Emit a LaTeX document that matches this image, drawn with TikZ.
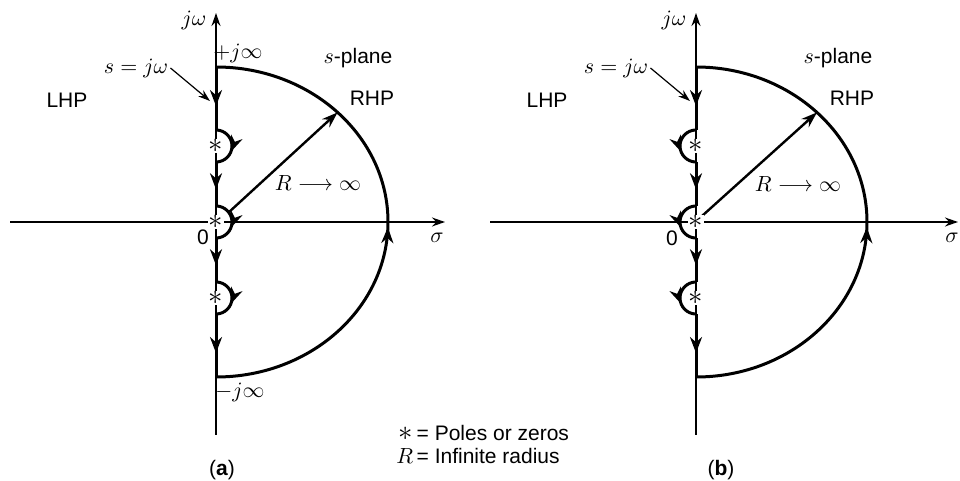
\documentclass[tikz,border=0pt]{standalone}
\usepackage{fontspec}
\setmainfont{Liberation Sans}
\usetikzlibrary{arrows.meta,decorations.markings}
\begin{document}
\begin{tikzpicture}[x=0.5pt,y=0.5pt,
  every node/.style={font=\fontsize{10.5}{12.5}\selectfont, inner sep=1pt},
  axisline/.style={line width=0.7pt,-{Stealth[length=6.5pt,width=4.5pt]}},
  plainaxis/.style={line width=0.7pt},
  contour/.style={line width=1.5pt},
  midarrow/.style={postaction={decorate},decoration={markings,mark=at position #1 with {\arrow{Stealth[length=8pt,width=6pt]}}}},
  midarrow/.default=0.62,
  indarrow/.style={postaction={decorate},decoration={markings,mark=at position 0.62 with {\arrow{Stealth[length=8pt,width=6pt]}}}},
  radline/.style={line width=1.2pt,-{Stealth[length=8pt,width=5.5pt]}},
  pointer/.style={line width=0.6pt,-{Stealth[length=6pt,width=4pt]}},
  pole/.style={fill=white,inner sep=0.3pt,font=\fontsize{15}{15}\selectfont}
]
\useasboundingbox (0,0) rectangle (960,-481);

% ================= (a) =================
\coordinate (Oa) at (216,-222);
\coordinate (axLa) at (10,-222);
\coordinate (axRa) at (445,-222);
\coordinate (ayBa) at (216,-435);
\coordinate (ayTa) at (216,-13);
\draw[plainaxis] (Oa) -- (axLa);
\draw[axisline] (Oa) -- (axRa);
\draw[plainaxis] (Oa) -- (ayBa);
\draw[axisline] (Oa) -- (ayTa);

\coordinate (ta) at (216,-67);
\coordinate (p1ta) at (216,-130);
\coordinate (p1ba) at (216,-162);
\coordinate (p0ta) at (216,-206);
\coordinate (p0ba) at (216,-238);
\coordinate (p2ta) at (216,-282);
\coordinate (p2ba) at (216,-314);
\coordinate (ba) at (216,-377);
\coordinate (ea) at (337.6,-112.4);
\coordinate (ra) at (228,-213);

\draw[contour,midarrow] (ta) -- (p1ta);
\draw[contour,indarrow] (p1ta) arc[start angle=90,end angle=-90,radius=16];
\draw[contour,midarrow] (p1ba) -- (p0ta);
\draw[contour,indarrow] (p0ta) arc[start angle=90,end angle=-90,radius=16];
\draw[contour,midarrow] (p0ba) -- (p2ta);
\draw[contour,indarrow] (p2ta) arc[start angle=90,end angle=-90,radius=16];
\draw[contour,midarrow] (p2ba) -- (ba);
\draw[contour,midarrow=0.49] (ba) arc[start angle=-90,end angle=90,x radius=172,y radius=155];
\draw[radline] (ra) -- (ea);

\node[pole] (pa1) at (216,-146) {$\ast$};
\node[pole] (pa0) at (216,-222) {$\ast$};
\node[pole] (pa2) at (216,-298) {$\ast$};

\node (jwa) at (194,-20) {$j\omega$};
\node (pinfa) at (238,-53) {$+j\infty$};
\node (minfa) at (240,-392) {$-j\infty$};
\node (spa) at (358,-58) {$s$-plane};
\node (rhpa) at (372,-98) {RHP};
\node (lhpa) at (67,-100) {LHP};
\node (sjwa) at (136,-68) {$s = j\omega$};
\coordinate (sjwaTip) at (210,-101);
\draw[pointer] (sjwa.east) -- (sjwaTip);
\node (Ra) at (318,-183) {$R \longrightarrow \infty$};
\node (za) at (203,-237) {0};
\node (siga) at (437,-238) {$\sigma$};
\node (capa) at (222,-470) {(\textbf{a})};

% ================= (b) =================
\coordinate (Ob) at (696,-222);
\coordinate (axLb) at (490,-222);
\coordinate (axRb) at (958,-222);
\coordinate (ayBb) at (696,-435);
\coordinate (ayTb) at (696,-13);
\draw[plainaxis] (Ob) -- (axLb);
\draw[axisline] (Ob) -- (axRb);
\draw[plainaxis] (Ob) -- (ayBb);
\draw[axisline] (Ob) -- (ayTb);

\coordinate (tb) at (696,-67);
\coordinate (p1tb) at (696,-130);
\coordinate (p1bb) at (696,-162);
\coordinate (p0tb) at (696,-206);
\coordinate (p0bb) at (696,-238);
\coordinate (p2tb) at (696,-282);
\coordinate (p2bb) at (696,-314);
\coordinate (bb) at (696,-377);
\coordinate (eb) at (817,-112.4);
\coordinate (rb) at (702,-216);

\draw[contour,midarrow] (tb) -- (p1tb);
\draw[contour,indarrow] (p1tb) arc[start angle=90,end angle=270,radius=16];
\draw[contour,midarrow] (p1bb) -- (p0tb);
\draw[contour,indarrow] (p0tb) arc[start angle=90,end angle=270,radius=16];
\draw[contour,midarrow] (p0bb) -- (p2tb);
\draw[contour,indarrow] (p2tb) arc[start angle=90,end angle=270,radius=16];
\draw[contour,midarrow] (p2bb) -- (bb);
\draw[contour,midarrow=0.49] (bb) arc[start angle=-90,end angle=90,x radius=171,y radius=155];
\draw[radline] (rb) -- (eb);

\node[pole] (pb1) at (696,-146) {$\ast$};
\node[pole] (pb0) at (696,-222) {$\ast$};
\node[pole] (pb2) at (696,-298) {$\ast$};

\node (jwb) at (674,-20) {$j\omega$};
\node (spb) at (838,-58) {$s$-plane};
\node (rhpb) at (852,-98) {RHP};
\node (lhpb) at (547,-100) {LHP};
\node (sjwb) at (616,-68) {$s = j\omega$};
\coordinate (sjwbTip) at (690,-101);
\draw[pointer] (sjwb.east) -- (sjwbTip);
\node (Rb) at (798,-184) {$R \longrightarrow \infty$};
\node (zb) at (672,-238) {0};
\node (sigb) at (952,-238) {$\sigma$};
\node (capb) at (721,-470) {(\textbf{b})};

% ================= legend =================
\node[anchor=north west,inner sep=0pt] (leg) at (396,-423) {\def\arraystretch{0.95}\begin{tabular}{@{}r@{\,}l@{}}{\fontsize{14}{14}\selectfont$\ast$} & = Poles or zeros\\ $R$ & = Infinite radius\end{tabular}};
\end{tikzpicture}
\end{document}
